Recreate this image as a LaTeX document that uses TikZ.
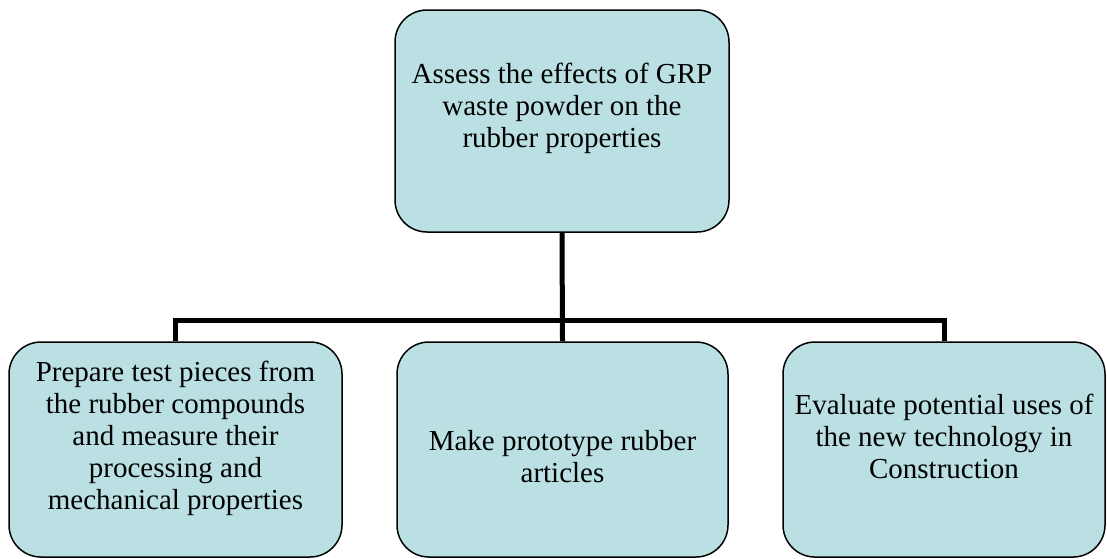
\documentclass[tikz,border=0pt]{standalone}
\usepackage{fontspec}
\setmainfont{Liberation Serif}
\usetikzlibrary{positioning}
\definecolor{boxfill}{RGB}{186,224,227}
\tikzset{
  box/.style={draw=black,line width=1.5pt,fill=boxfill,rounded corners=32pt,inner sep=0pt},
  txt/.style={align=center,font=\fontsize{29}{32}\selectfont,inner sep=0pt},
  link/.style={line width=5pt}
}
\begin{document}
\begin{tikzpicture}[x=1pt,y=-1pt]
		\useasboundingbox (0,0) rectangle (1107,558);
		% Boxes
		\node[box,minimum width=334pt,minimum height=222pt] (top) at (562,121) {};
		\node[box,minimum width=333pt,minimum height=215pt] (left) at (175.5,449.5) {};
		\node[box,minimum width=331pt,minimum height=215pt] (mid) at (562.5,449.5) {};
		\node[box,minimum width=322pt,minimum height=215pt] (right) at (944,449.5) {};
		\coordinate (bus) at (562,320);
		
		% Links
		\draw[link] (top.south) -- (mid.north);
		\draw[link] (left.north) |- (bus) -| (right.north);
		
		% Texts
		\node[txt] (toptext) at (562,108) {Assess the effects of GRP\\waste powder on the\\rubber properties};
		\node[txt] (lefttext) at (175.5,438) {Prepare test pieces from\\the rubber compounds\\and measure their\\processing and\\mechanical properties};
		\node[txt] (midtext) at (562.5,457) {Make prototype rubber\\articles};
		\node[txt] (righttext) at (944,436) {Evaluate potential uses of\\the new technology in\\Construction};
\end{tikzpicture}
\end{document}
